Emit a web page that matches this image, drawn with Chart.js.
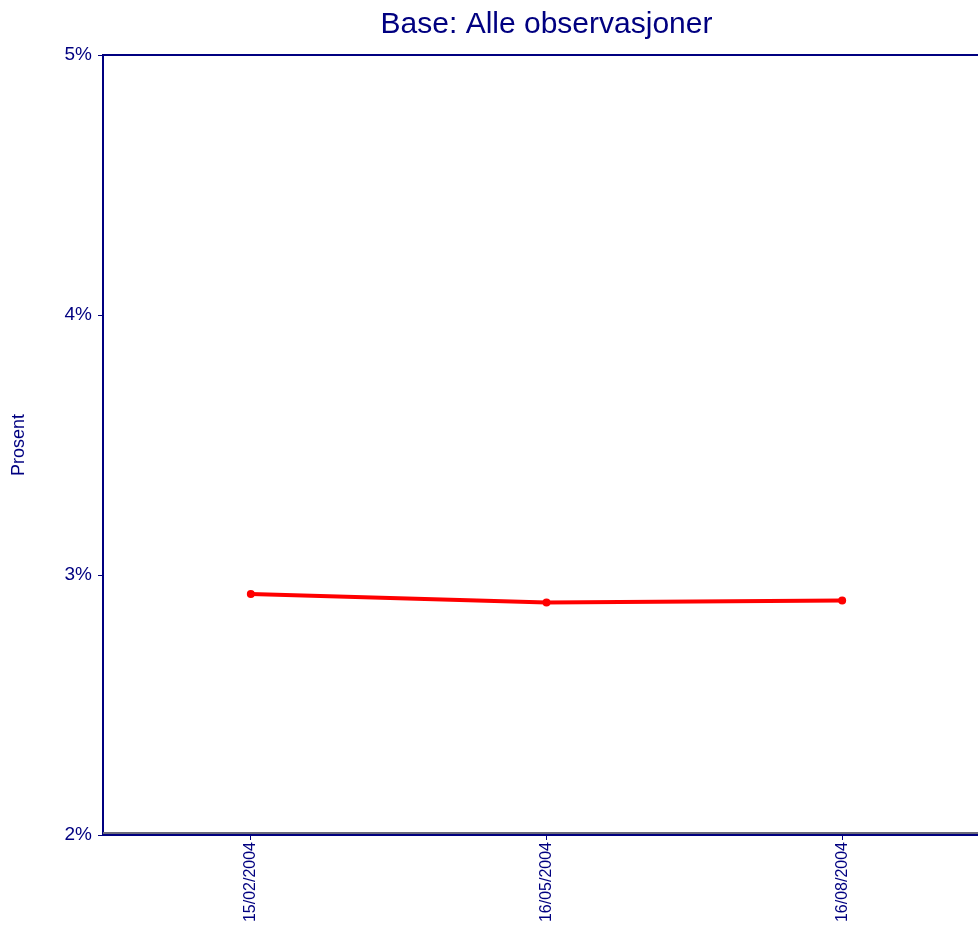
<!DOCTYPE html>
<html>
<head>
<meta charset="utf-8">
<script src="https://cdn.jsdelivr.net/npm/chart.js@4/dist/chart.umd.min.js"></script>
<style>
    html, body { margin: 0; padding: 0; background: #fff; overflow: hidden; }
    #chart { display: block; }
</style>
</head>
<body>
<canvas id="chart" width="998" height="925"></canvas>
<script>
// chart data
const labels = ['15/02/2004', '16/05/2004', '16/08/2004'];
const values = [2.927, 2.894, 2.902];
const yMin = 2;
const yMax = 5;

const NAVY = '#000080';
const FONT = "'Liberation Sans', Arial, sans-serif";

// top frame line + grey line above the x axis
const framePlugin = {
    id: 'frame',
    afterDraw(chart) {
        const { ctx, chartArea: a } = chart;
        ctx.save();
        ctx.strokeStyle = NAVY;
        ctx.lineWidth = 2;
        ctx.beginPath();
        ctx.moveTo(a.left, a.top);
        ctx.lineTo(a.right, a.top);
        ctx.stroke();
        ctx.strokeStyle = '#6b6b7a';
        ctx.beginPath();
        ctx.moveTo(a.left, a.bottom - 2);
        ctx.lineTo(a.right, a.bottom - 2);
        ctx.stroke();
        ctx.restore();
    }
};

const ctx = document.getElementById('chart').getContext('2d');
new Chart(ctx, {
    type: 'line',
    data: {
        labels: labels,
        datasets: [{
            data: values,
            borderColor: '#ff0000',
            backgroundColor: '#ff0000',
            borderWidth: 4,
            pointRadius: 2,
            tension: 0
        }]
    },
    options: {
        responsive: false,
        animation: false,
        layout: { padding: { left: 0, right: 2, top: 0, bottom: 0 } },
        plugins: {
            legend: { display: false },
            tooltip: { enabled: false },
            title: {
                display: true,
                fullSize: false,
                text: 'Base: Alle observasjoner',
                color: NAVY,
                font: { family: FONT, size: 30, weight: 'normal' },
                padding: { top: 7, bottom: 12 }
            }
        },
        scales: {
            x: {
                type: 'category',
                offset: true,
                afterFit: s => { s.height = 90; },
                border: { color: NAVY, width: 2 },
                grid: { drawOnChartArea: false, color: NAVY, tickLength: 5, offset: false },
                ticks: {
                    color: NAVY,
                    font: { family: FONT, size: 16 },
                    minRotation: 90,
                    maxRotation: 90,
                    padding: 2,
                    autoSkip: false
                }
            },
            y: {
                min: yMin,
                max: yMax,
                afterFit: s => { s.width = 103; },
                title: {
                    display: true,
                    text: 'Prosent',
                    color: NAVY,
                    font: { family: FONT, size: 18 },
                    padding: { top: 8, bottom: 0 }
                },
                border: { color: NAVY, width: 2 },
                grid: { drawOnChartArea: false, color: NAVY, tickLength: 5 },
                ticks: {
                    stepSize: 1,
                    color: NAVY,
                    font: { family: FONT, size: 19 },
                    padding: 6,
                    callback: v => v + '%'
                }
            }
        }
    },
    plugins: [framePlugin]
});
</script>
</body>
</html>
